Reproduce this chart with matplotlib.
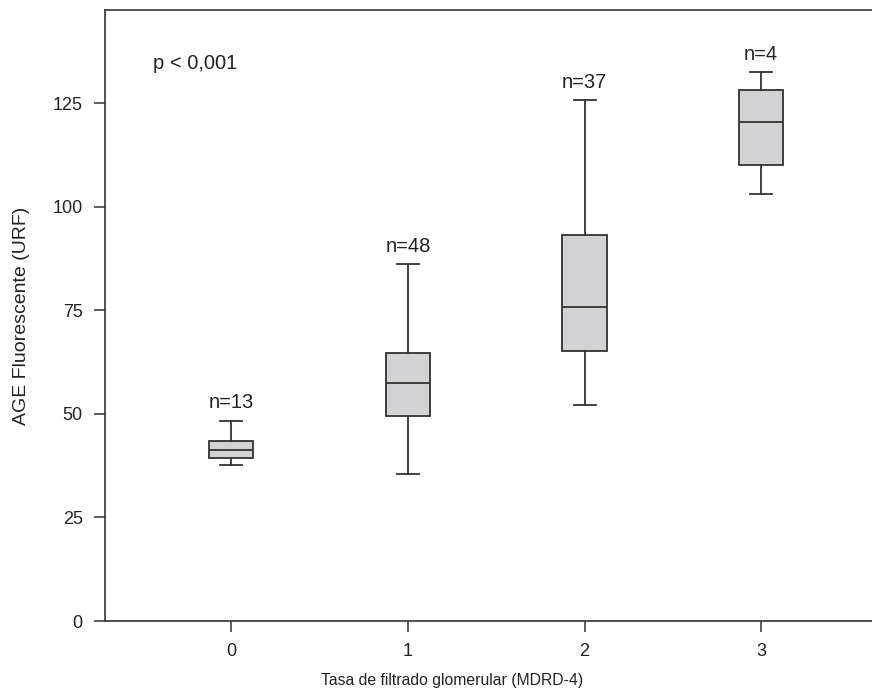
import matplotlib.pyplot as plt

# Boxplot summary values
groups = [0, 1, 2, 3]
n_sizes = [13, 48, 37, 4]
whis_lo = [37.6, 35.6, 52.2, 103.1]
q1 = [39.3, 49.6, 65.3, 110.0]
medians = [41.4, 57.5, 75.7, 120.5]
q3 = [43.4, 64.6, 93.2, 128.3]
whis_hi = [48.4, 86.2, 125.7, 132.5]

plt.rcParams['font.family'] = ['Liberation Sans', 'DejaVu Sans']
txt_color = '#222222'

fig = plt.figure(figsize=(8.72, 6.97), dpi=100)
ax = fig.add_axes([0.1204, 0.109, 1.0 - 0.1204, 0.9857 - 0.109])

stats = []
for i in range(len(groups)):
    stats.append(dict(med=medians[i], q1=q1[i], q3=q3[i],
                      whislo=whis_lo[i], whishi=whis_hi[i], fliers=[]))

ax.bxp(stats, positions=groups, widths=0.25, patch_artist=True, showfliers=False,
       boxprops=dict(facecolor='#d3d3d5', edgecolor='#333333', linewidth=1.3),
       medianprops=dict(color='#333333', linewidth=1.3),
       whiskerprops=dict(color='#333333', linewidth=1.3),
       capprops=dict(color='#333333', linewidth=1.3),
       capwidths=0.125)

# sample sizes above each upper whisker
for x, top, n in zip(groups, whis_hi, n_sizes):
    ax.annotate(f'n={n}', (x, top), textcoords='offset points', xytext=(0, 6),
                ha='center', va='bottom', fontsize=14.5, color=txt_color)

ax.text(-0.444, 134.6, 'p < 0,001', fontsize=14.5, color=txt_color, ha='left', va='center')

ax.set_xlim(-0.716, 3.628)
ax.set_ylim(0, 147.5)
ax.set_xticks(groups)
ax.set_xticklabels([str(g) for g in groups])
ax.set_yticks([0, 25, 50, 75, 100, 125])

ax.spines['right'].set_visible(False)
for s in ['left', 'top', 'bottom']:
    ax.spines[s].set_color('#333333')
    ax.spines[s].set_linewidth(1.2)

ax.tick_params(axis='both', direction='out', length=8, width=1.1, color='#333333',
               labelsize=13, labelcolor=txt_color, pad=8)

ax.set_xlabel('Tasa de filtrado glomerular (MDRD-4)', fontsize=11.3, color=txt_color)
ax.xaxis.set_label_coords(0.452, -0.085)
ax.set_ylabel('AGE Fluorescente (URF)', fontsize=14, color=txt_color, labelpad=16)

fig.savefig('out.png', dpi=100)
